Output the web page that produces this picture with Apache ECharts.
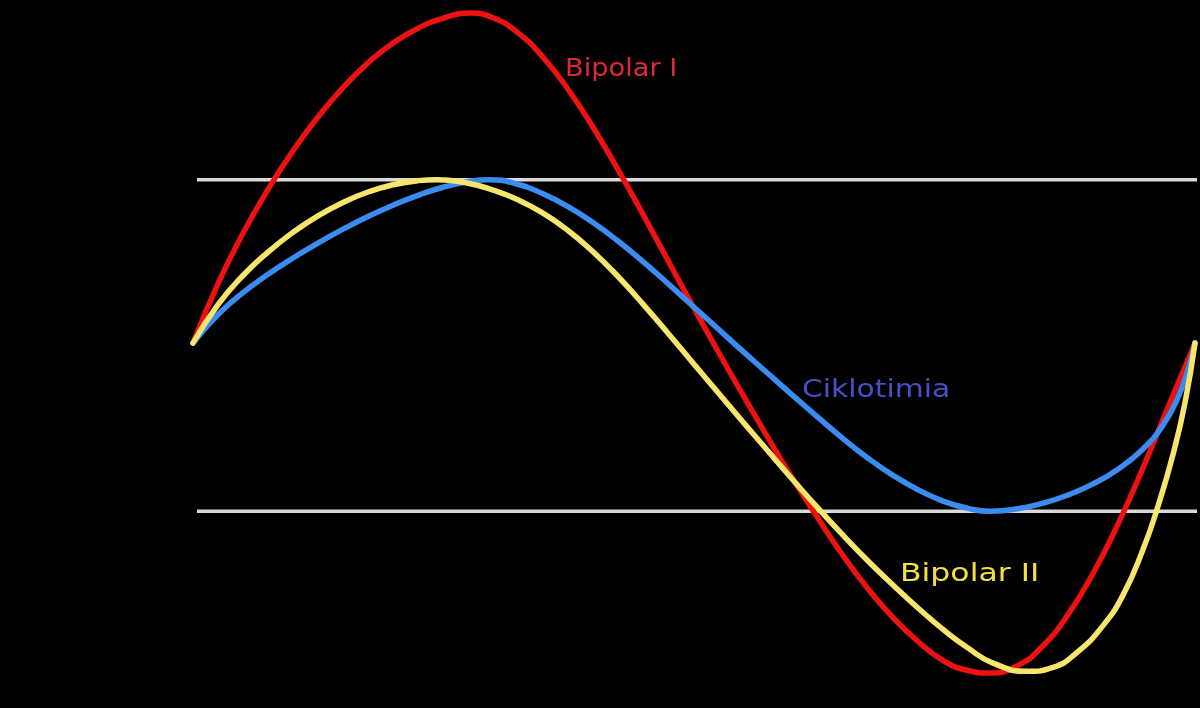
<!DOCTYPE html>
<html>
<head>
<meta charset="utf-8">
<script src="https://cdn.jsdelivr.net/npm/echarts@6/dist/echarts.min.js"></script>
<style>
html,body{margin:0;padding:0;background:#000;}
#chart{width:1200px;height:708px;}
</style>
</head>
<body>
<div id="chart"></div>
<script>
// x: phase (arbitrary units), y: mood level (white lines = normal range)
const bipolarI = [[0,0],[25,0.360],[50,0.665],[75,0.930],[100,1.165],[125,1.370],[150,1.548],[175,1.698],[200,1.818],[225,1.908],[250,1.968],[277,2.000],[300,1.971],[325,1.880],[350,1.732],[375,1.538],[400,1.308],[425,1.051],[450,0.780],[475,0.500],[500,0.222],[525,-0.050],[550,-0.315],[575,-0.575],[600,-0.825],[625,-1.062],[650,-1.288],[675,-1.490],[700,-1.664],[725,-1.809],[750,-1.924],[775,-1.985],[797,-2.000],[825,-1.954],[850,-1.835],[875,-1.646],[900,-1.397],[925,-1.098],[950,-0.757],[975,-0.389],[1002,0]];
const ciklotimia = [[0,0],[25,0.172],[50,0.305],[75,0.416],[100,0.515],[125,0.606],[150,0.690],[175,0.767],[200,0.835],[225,0.895],[250,0.944],[275,0.978],[295,0.990],[325,0.962],[350,0.904],[375,0.827],[400,0.730],[425,0.618],[450,0.493],[475,0.360],[500,0.223],[525,0.086],[550,-0.051],[575,-0.185],[600,-0.319],[625,-0.451],[650,-0.579],[675,-0.698],[700,-0.802],[725,-0.889],[750,-0.958],[775,-1.002],[797,-1.020],[825,-1.005],[850,-0.971],[875,-0.921],[900,-0.854],[925,-0.765],[950,-0.642],[970,-0.498],[985,-0.330],[995,-0.160],[1002,0]];
const bipolarII = [[0,0],[25,0.232],[50,0.409],[75,0.551],[100,0.671],[125,0.771],[150,0.852],[175,0.915],[200,0.959],[225,0.984],[244,0.990],[275,0.968],[300,0.927],[325,0.868],[350,0.787],[375,0.682],[400,0.553],[425,0.403],[450,0.236],[475,0.059],[500,-0.121],[525,-0.300],[550,-0.479],[575,-0.655],[600,-0.830],[625,-1.001],[650,-1.165],[675,-1.321],[700,-1.467],[725,-1.606],[750,-1.736],[775,-1.849],[800,-1.940],[834,-1.990],[860,-1.966],[885,-1.870],[910,-1.713],[930,-1.528],[950,-1.252],[965,-0.989],[980,-0.676],[992,-0.362],[1002,0]];
const upperLimit = 0.99;
const lowerLimit = -1.02;
const limitRange = [4, 1004];
const labels = ['Bipolar I', 'Ciklotimia', 'Bipolar II'];

const chart = echarts.init(document.getElementById('chart'), null, {renderer:'canvas'});
const curveStyle = (color) => ({color: color, width: 5.5, cap: 'round', join: 'round'});
const limitStyle = {color:'#d9d9d9', width: 3.5};
chart.setOption({
  backgroundColor:'#000000',
  animation:false,
  grid:{left:193, right:3, top:13, bottom:35},
  xAxis:{type:'value', min:0, max:1004, show:false},
  yAxis:{type:'value', min:-2, max:2, show:false},
  series:[
    {type:'line', data: limitRange.map(x=>[x, upperLimit]), symbol:'none', lineStyle:limitStyle, silent:true, clip:false},
    {type:'line', data: limitRange.map(x=>[x, lowerLimit]), symbol:'none', lineStyle:limitStyle, silent:true, clip:false},
    {name:labels[0], type:'line', data: bipolarI, smooth:0.5, symbol:'none', lineStyle:curveStyle('#ee1111'), clip:false},
    {name:labels[1], type:'line', data: ciklotimia, smooth:0.5, symbol:'none', lineStyle:curveStyle('#3a8cf0'), clip:false},
    {name:labels[2], type:'line', data: bipolarII, smooth:0.5, symbol:'none', lineStyle:curveStyle('#f8e66c'), clip:false}
  ],
  graphic:[
    {type:'text', left:565, top:57, scaleX:1.09, style:{text:labels[0], fill:'#dc2a35', font:'25px "DejaVu Sans"'}},
    {type:'text', left:802, top:378, scaleX:1.19, style:{text:labels[1], fill:'#4650c8', font:'25px "DejaVu Sans"'}},
    {type:'text', left:900, top:562, scaleX:1.26, style:{text:labels[2], fill:'#f6e03c', font:'25px "DejaVu Sans"'}}
  ]
});
</script>
</body>
</html>
